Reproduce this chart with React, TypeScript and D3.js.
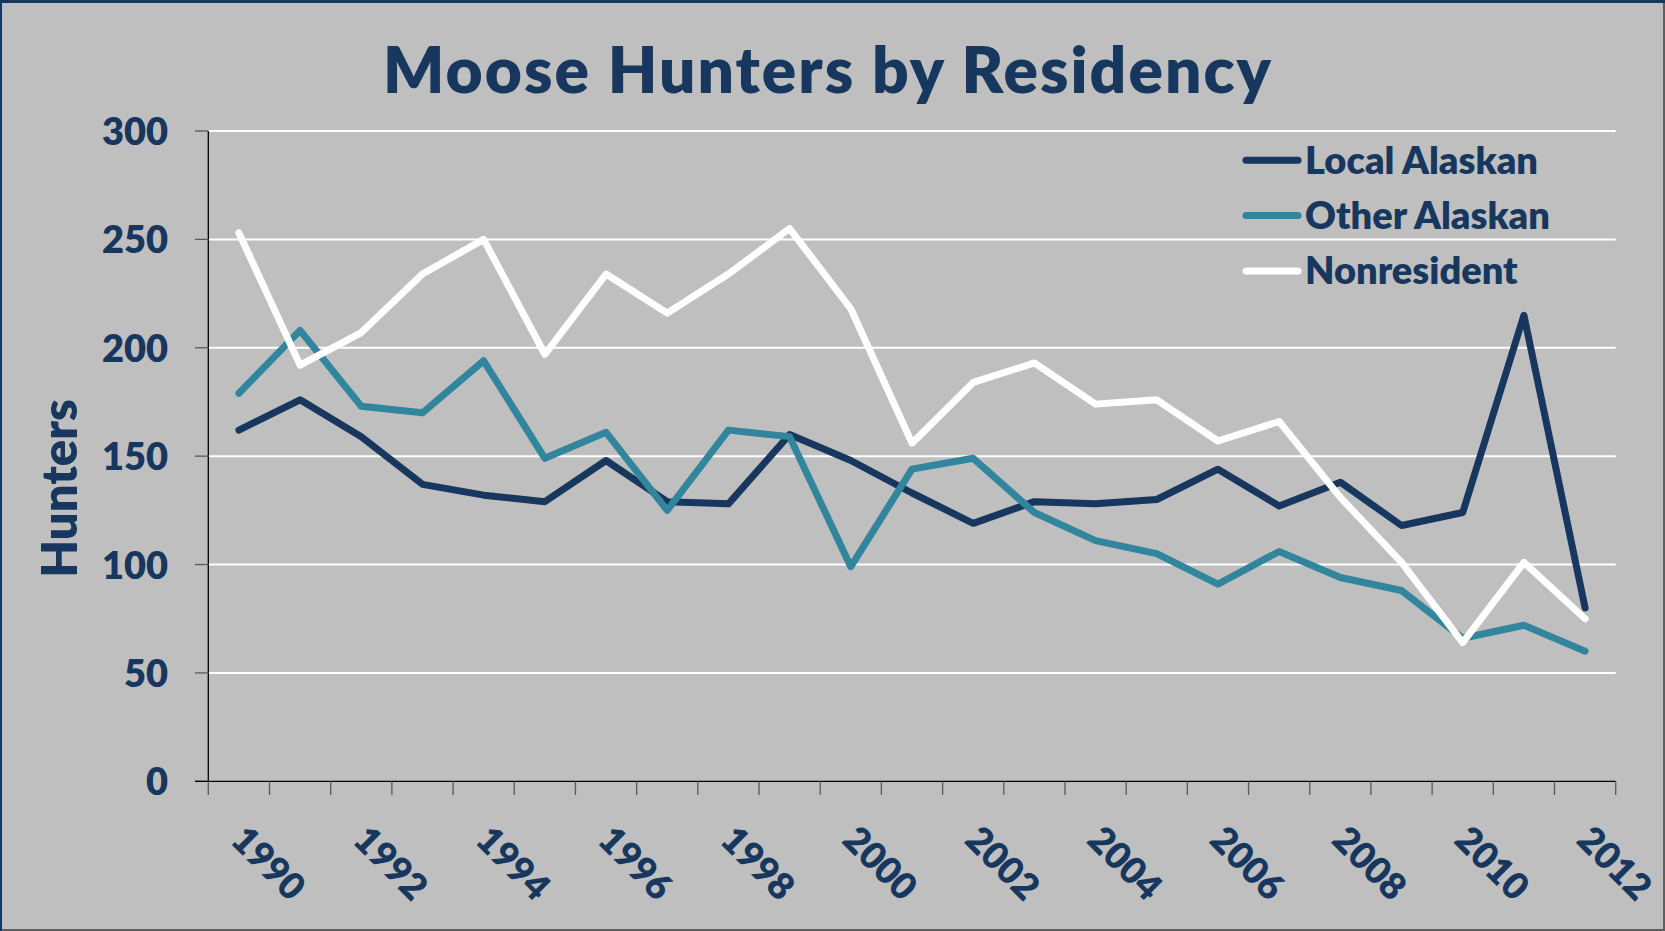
import React from "react";
import * as d3 from "d3";

const years: number[] = [1990,1991,1992,1993,1994,1995,1996,1997,1998,1999,2000,2001,2002,2003,2004,2005,2006,2007,2008,2009,2010,2011,2012];
const localAlaskan: number[] = [162,176,159,137,132,129,148,129,128,160,148,133,119,129,128,130,144,127,138,118,124,215,80];
const otherAlaskan: number[] = [179,208,173,170,194,149,161,125,162,159,99,144,149,124,111,105,91,106,94,88,66,72,60];
const nonresident: number[] = [253,192,207,234,250,197,234,216,234,255,218,156,184,193,174,176,157,166,131,101,64,101,75];
const yTicks: number[] = [0,50,100,150,200,250,300];
const xLabelYears: number[] = [1990,1992,1994,1996,1998,2000,2002,2004,2006,2008,2010,2012];

const seriesNames = ["Local Alaskan", "Other Alaskan", "Nonresident"];
const seriesColors = ["#17375E", "#31859C", "#FFFFFF"];
const seriesData = [localAlaskan, otherAlaskan, nonresident];

const W = 1665, H = 931;
const TEXT = "#17375E";
const FONT = "Lato, 'Open Sans', sans-serif";
const WEIGHT = 800;

export default function App() {
  const x = d3.scaleBand<number>().domain(years).range([208.3, 1615.7]).paddingInner(0).paddingOuter(0);
  const y = d3.scaleLinear().domain([0, 300]).range([781.3, 131]);
  const cx = (yr: number) => (x(yr) as number) + x.bandwidth() / 2;
  const line = d3.line<number>().x((_, i) => cx(years[i])).y((v) => y(v));
  const boundaries = d3.range(years.length + 1).map((i) => 208.3 + i * x.bandwidth());

  return (
    <svg width={W} height={H} style={{ position: "absolute", left: 0, top: 0, display: "block" }} xmlns="http://www.w3.org/2000/svg">
      <rect x={0} y={0} width={W} height={H} fill="#BFBFBF" />
      <rect x={0} y={H - 2} width={W} height={2} fill="#5F5F5F" />
      <rect x={W - 2} y={0} width={2} height={H} fill="#5F5F5F" />
      <rect x={0} y={0} width={W} height={3} fill="#17375E" />
      <rect x={0} y={0} width={2} height={H} fill="#17375E" />

      {/* title */}
      <text x={827} y={93} textAnchor="middle" fontFamily={FONT} fontWeight={WEIGHT} fontSize={64} fill={TEXT} textLength={888} lengthAdjust="spacing">
        Moose Hunters by Residency
      </text>

      {/* gridlines */}
      {yTicks.filter((t) => t > 0).map((t) => (
        <line key={"g" + t} x1={208.3} x2={1615.7} y1={y(t)} y2={y(t)} stroke="#FFFFFF" strokeWidth={2} />
      ))}

      {/* y axis */}
      <line x1={208.3} x2={208.3} y1={y(300)} y2={y(0)} stroke="#000000" strokeWidth={1.3} />
      {yTicks.map((t) => (
        <line key={"yt" + t} x1={195} x2={208.3} y1={y(t)} y2={y(t)} stroke="#595959" strokeWidth={1.3} />
      ))}
      {yTicks.map((t) => (
        <text key={"yl" + t} x={168} y={y(t) + 14} textAnchor="end" fontFamily={FONT} fontWeight={WEIGHT} fontSize={38} fill={TEXT}>
          {t}
        </text>
      ))}
      <text transform={`translate(77.3,488.5) rotate(-90)`} textAnchor="middle" fontFamily={FONT} fontWeight={WEIGHT} fontSize={49} fill={TEXT}>
        Hunters
      </text>

      {/* x axis */}
      <line x1={195} x2={1615.7} y1={y(0)} y2={y(0)} stroke="#000000" strokeWidth={1.3} />
      {boundaries.map((b, i) => (
        <line key={"xt" + i} x1={b} x2={b} y1={y(0)} y2={795} stroke="#595959" strokeWidth={1.3} />
      ))}
      {xLabelYears.map((yr) => (
        <text key={"xl" + yr} transform={`translate(${cx(yr) - 10},842) rotate(45)`} textAnchor="start" fontFamily={FONT} fontWeight={WEIGHT} fontSize={37} fill={TEXT}>
          {yr}
        </text>
      ))}

      {/* series */}
      {seriesData.map((d, i) => (
        <path key={"s" + i} d={line(d) || ""} fill="none" stroke={seriesColors[i]} strokeWidth={7} strokeLinejoin="round" strokeLinecap="round" />
      ))}

      {/* legend */}
      {seriesNames.map((n, i) => (
        <g key={"lg" + i} transform={`translate(0,${160.3 + i * 55.3})`}>
          <line x1={1246} x2={1298} y1={0} y2={0} stroke={seriesColors[i]} strokeWidth={7} strokeLinecap="round" />
          <text x={1305} y={13.5} fontFamily={FONT} fontWeight={WEIGHT} fontSize={38} fill={TEXT}>
            {n}
          </text>
        </g>
      ))}
    </svg>
  );
}
